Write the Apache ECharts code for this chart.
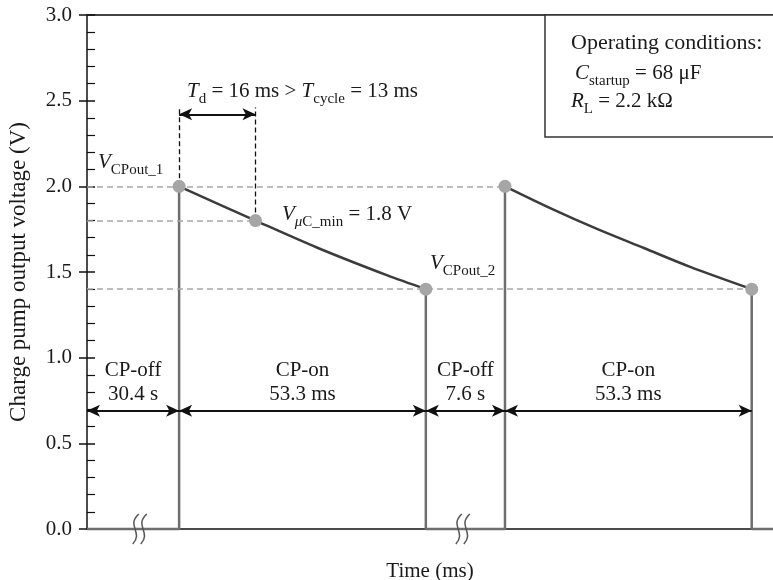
<!DOCTYPE html>
<html><head><meta charset="utf-8">
<script src="https://cdn.jsdelivr.net/npm/echarts@6/dist/echarts.min.js"></script>
<style>html,body{margin:0;padding:0;background:#fff}#c{width:773px;height:580px}</style>
</head><body><div id="c"></div>
<script>
// ---- data (display time in ms along a broken time axis) ----
const yTicks = [0, 0.5, 1.0, 1.5, 2.0, 2.5, 3.0];
const onsetTimes = [19.9, 90.3];                 // CP-on starts
const cpOn1Offset = [0, 16.5, 30, 45, 53.3];     // ms after onset
const cpOn1Volt   = [2.0, 1.8, 1.64, 1.48, 1.4];
const cpOn2Offset = [0, 10, 20, 30, 40, 53.3];
const cpOn2Volt   = [2.0, 1.87, 1.75, 1.64, 1.53, 1.4];
const axisEndTime = 148.2;
const breakTimes  = [11.4, 81.2];
const refVoltages = [2.0, 1.8, 1.4];             // V_CPout_1, V_uC_min, V_CPout_2
const tdArrowLevel = 2.42;
const tdDashTop    = 2.46;
const phaseArrowLevel = 0.69;
const phaseLabelLevel = 0.855;
const phaseNames     = ['CP-off', 'CP-on', 'CP-off', 'CP-on'];
const phaseDurations = ['30.4 s', '53.3 ms', '7.6 s', '53.3 ms'];

// ---- derived ----
const FONT = 'Liberation Serif';
const GRID = { left: 87, right: 0, top: 15, bottom: 51, containLabel: false, outerBoundsMode: 'none' };
const on1 = onsetTimes[0], on2 = onsetTimes[1];
const on1End = on1 + cpOn1Offset[cpOn1Offset.length - 1];
const on2End = on2 + cpOn2Offset[cpOn2Offset.length - 1];
const tMin = on1 + cpOn1Offset[1];
const decay1 = cpOn1Offset.map((t, i) => [on1 + t, cpOn1Volt[i]]);
const decay2 = cpOn2Offset.map((t, i) => [on2 + t, cpOn2Volt[i]]);
const vStart = cpOn1Volt[0], vEnd = cpOn1Volt[cpOn1Volt.length - 1];
const bounds = [0, on1, on1End, on2, on2End];
const yMin = yTicks[0], yMax = yTicks[yTicks.length - 1], yStep = yTicks[1] - yTicks[0];

const grayWave = '#6e6e6e', darkWave = '#3c3c3c';

function stepSeries(data) {
  return { type: 'line', data, symbol: 'none', clip: false, z: 3,
    lineStyle: { color: grayWave, width: 2.5 }, silent: true };
}

const rich = {
  n:  { fontFamily: FONT, fontSize: 21, color: '#1a1a1a', padding: [0, 0, 5, 0], verticalAlign: 'bottom' },
  it: { fontFamily: FONT, fontSize: 21, fontStyle: 'italic', color: '#1a1a1a', padding: [0, 0, 5, 0], verticalAlign: 'bottom' },
  sub:{ fontFamily: FONT, fontSize: 15, color: '#1a1a1a', verticalAlign: 'bottom' },
  subit:{ fontFamily: FONT, fontSize: 15, fontStyle: 'italic', color: '#1a1a1a', verticalAlign: 'bottom' }
};
function txt(x, y, text, extra) {
  return { type: 'text', x, y, z: 20, style: Object.assign({ text, rich, fill: '#1a1a1a',
    font: '21px ' + FONT, align: 'left', verticalAlign: 'middle' }, extra || {}) };
}

const chart = echarts.init(document.getElementById('c'), null, { renderer: 'canvas' });
const option = {
  animation: false,
  backgroundColor: '#fff',
  grid: [Object.assign({}, GRID), Object.assign({}, GRID)],
  xAxis: [
    { type: 'value', gridIndex: 0, min: 0, max: axisEndTime, position: 'bottom',
      axisLine: { show: true, lineStyle: { color: '#111', width: 1.5 } },
      axisTick: { show: false }, axisLabel: { show: false }, splitLine: { show: false },
      name: 'Time (ms)', nameLocation: 'middle', nameGap: 32,
      nameTextStyle: { fontFamily: FONT, fontSize: 21, color: '#1a1a1a' } },
    { type: 'value', gridIndex: 0, min: 0, max: axisEndTime, position: 'top',
      axisLine: { show: true, lineStyle: { color: '#444', width: 2 } },
      axisTick: { show: false }, axisLabel: { show: false }, splitLine: { show: false } },
    { type: 'value', gridIndex: 1, min: 0, max: axisEndTime, show: false }
  ],
  yAxis: [
    { type: 'value', gridIndex: 0, min: yMin, max: yMax, interval: yStep, position: 'left',
      axisLine: { show: true, lineStyle: { color: '#111', width: 1.5 } },
      axisTick: { show: true, inside: false, length: 8, lineStyle: { color: '#111', width: 1.5 } },
      axisLabel: { formatter: v => v.toFixed(1), fontFamily: FONT, fontSize: 21, color: '#1a1a1a', margin: 15 },
      splitLine: { show: false },
      name: 'Charge pump output voltage (V)', nameLocation: 'middle', nameGap: 57,
      nameTextStyle: { fontFamily: FONT, fontSize: 23, color: '#1a1a1a' } },
    // inner tick set on an overlapping grid: ticks + minor ticks pointing into the plot
    { type: 'value', gridIndex: 1, min: yMin, max: yMax, interval: yStep, position: 'left',
      axisLine: { show: false },
      axisTick: { show: true, inside: true, length: 8, lineStyle: { color: '#111', width: 1.5 } },
      minorTick: { show: true, splitNumber: 5, length: 8, lineStyle: { color: '#111', width: 1.2 } },
      axisLabel: { show: false }, splitLine: { show: false } }
  ],
  series: [
    // reference dashed lines + arrows
    { type: 'line', data: [], z: 1, silent: true,
      markLine: { silent: true, symbol: ['none', 'none'], label: { show: false },
        lineStyle: { color: '#a8a8a8', width: 1.5, type: [6, 4] },
        data: [
          [{ coord: [0, refVoltages[0]] }, { coord: [on2, refVoltages[0]] }],
          [{ coord: [0, refVoltages[1]] }, { coord: [tMin, refVoltages[1]] }],
          [{ coord: [0, refVoltages[2]] }, { coord: [on2End, refVoltages[2]] }]
        ] } },
    { type: 'line', data: [], z: 1, silent: true,
      markLine: { silent: true, symbol: ['none', 'none'], label: { show: false },
        lineStyle: { color: '#111', width: 1.3, type: [5, 3] },
        data: [
          [{ coord: [on1, refVoltages[0]] }, { coord: [on1, tdDashTop] }],
          [{ coord: [tMin, refVoltages[1]] }, { coord: [tMin, tdDashTop] }]
        ] } },
    { type: 'line', data: [], z: 4, silent: true,
      markLine: { silent: true, symbol: ['arrow', 'arrow'], symbolSize: [9, 13], label: { show: false },
        lineStyle: { color: '#111', width: 1.8, type: 'solid' },
        data: [[{ coord: [on1, tdArrowLevel] }, { coord: [tMin, tdArrowLevel] }]].concat(
          bounds.slice(0, -1).map((b, i) => [{ coord: [b, phaseArrowLevel] }, { coord: [bounds[i + 1], phaseArrowLevel] }])) } },
    // waveform step parts
    stepSeries([[0, 0], [on1, 0], [on1, vStart]]),
    stepSeries([[on1End, vEnd], [on1End, 0], [on2, 0], [on2, cpOn2Volt[0]]]),
    stepSeries([[on2End, cpOn2Volt[cpOn2Volt.length - 1]], [on2End, 0], [axisEndTime, 0]]),
    // decays
    { type: 'line', data: decay1, symbol: 'none', smooth: 0.3, z: 4, silent: true,
      lineStyle: { color: darkWave, width: 2.5 } },
    { type: 'line', data: decay2, symbol: 'none', smooth: 0.3, z: 4, silent: true,
      lineStyle: { color: darkWave, width: 2.5 } },
    // marker dots
    { type: 'scatter', z: 6, silent: true, symbol: 'circle', symbolSize: 13,
      itemStyle: { color: '#a6a6a6', opacity: 1 },
      data: [decay1[0], decay1[1], decay1[decay1.length - 1], decay2[0], decay2[decay2.length - 1]] },
    // axis break marks
    { type: 'custom', z: 7, silent: true, clip: false,
      data: breakTimes.map(t => [t, 0]),
      renderItem: (params, api) => {
        const p = api.coord([api.value(0), api.value(1)]);
        const mk = dx => ({ type: 'bezierCurve',
          shape: { x1: p[0] + dx + 3, y1: p[1] - 15, cpx1: p[0] + dx - 10, cpy1: p[1] - 3,
                   cpx2: p[0] + dx + 8, cpy2: p[1] + 3, x2: p[0] + dx - 3, y2: p[1] + 15 },
          style: { stroke: '#555', lineWidth: 1.5, fill: null } });
        return { type: 'group', children: [mk(-4), mk(4)] };
      } },
    // phase labels
    { type: 'scatter', z: 8, silent: true, symbolSize: 0,
      itemStyle: { opacity: 1 },
      data: bounds.slice(0, -1).map((b, i) => ({ value: [(b + bounds[i + 1]) / 2, phaseLabelLevel],
        label: { formatter: phaseNames[i] + '\n' + phaseDurations[i] } })),
      label: { show: true, position: 'inside', fontFamily: FONT, fontSize: 21, lineHeight: 24,
        color: '#1a1a1a', opacity: 1, align: 'center', verticalAlign: 'middle' } }
  ],
  graphic: [
    { type: 'rect', z: 10, shape: { x: 545, y: 15, width: 240, height: 122 },
      style: { fill: '#fff', stroke: '#333', lineWidth: 1.5 } },
    txt(571, 43, 'Operating conditions:', { font: '22px ' + FONT }),
    txt(575, 76, '{it|C}{sub|startup}{n| = 68 μF}'),
    txt(571, 104, '{it|R}{sub|L}{n| = 2.2 kΩ}'),
    txt(187, 94, '{it|T}{sub|d}{n| = 16 ms > }{it|T}{sub|cycle}{n| = 13 ms}'),
    txt(98, 165, '{it|V}{sub|CPout_1}'),
    txt(282, 217, '{it|V}{subit|μ}{sub|C_min}{n| = 1.8 V}'),
    txt(430, 266, '{it|V}{sub|CPout_2}')
  ]
};
chart.setOption(option);
</script>
</body></html>
